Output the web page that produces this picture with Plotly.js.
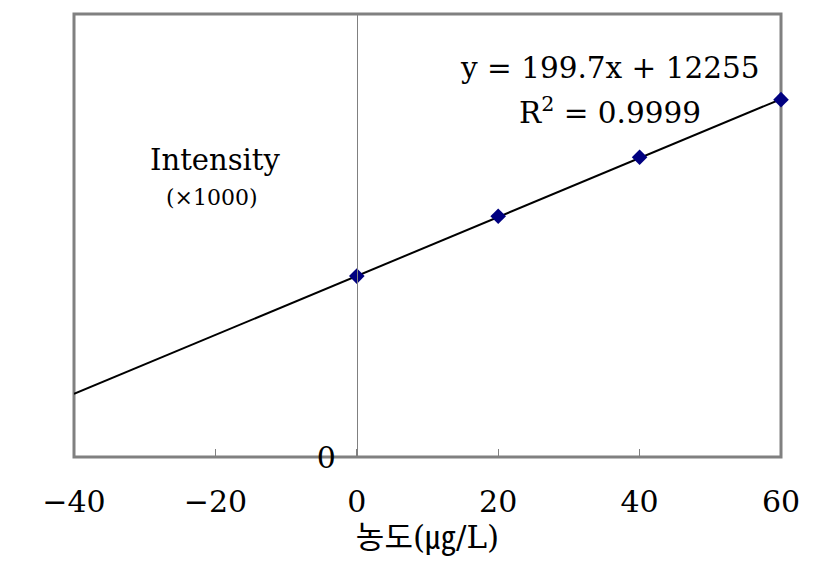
<!DOCTYPE html>
<html>
<head>
<meta charset="utf-8">
<script src="https://cdn.plot.ly/plotly-3.0.1.min.js"></script>
<style>html,body{margin:0;padding:0;background:#fff;}#chart{width:831px;height:568px;}</style>
</head>
<body>
<div id="chart"></div>
<script>
// Data
const concX = [0, 20, 40, 60];
const intensityY = [12250, 16300, 20300, 24200];
const trendX = [-40, 60];
const trendY = [4270, 24240];
const xTickVals = [-40, -20, 0, 20, 40, 60];
const xTickText = ['\u221240', '\u221220', '0', '20', '40', '60'];
const equationText = 'y\u00a0=\u00a0199.7x\u00a0+\u00a012255';
const r2Text = 'R<sup>2</sup>\u00a0=\u00a00.9999';

const serif = 'DejaVu Serif, Liberation Serif, Noto Sans CJK KR, serif';

const traces = [
  {x: trendX, y: trendY, mode: 'lines', type: 'scatter',
   line: {color: '#000000', width: 2}, hoverinfo: 'skip', showlegend: false},
  {x: concX, y: intensityY, mode: 'markers', type: 'scatter', cliponaxis: false,
   marker: {symbol: 'diamond', color: '#000080', size: 12}, showlegend: false}
];

const layout = {
  width: 831, height: 568,
  margin: {l: 74, r: 50, t: 14, b: 111},
  paper_bgcolor: '#ffffff', plot_bgcolor: '#ffffff',
  showlegend: false,
  font: {family: serif, color: '#000000'},
  xaxis: {
    range: [-40, 60], showgrid: false, zeroline: false, showline: false,
    tickvals: xTickVals, ticktext: xTickText,
    ticks: 'inside', ticklen: 8, tickcolor: '#808080', tickwidth: 1,
    ticklabelstandoff: 24,
    tickfont: {family: serif, size: 30, color: '#000000'},
    title: {text: '농도(㎍/L)', font: {family: 'DejaVu Serif, Noto Sans CJK KR, serif', size: 31, color: '#000000'}, standoff: 2}
  },
  yaxis: {
    range: [0, 30000], showgrid: false, zeroline: false,
    anchor: 'free', position: 0.4,
    showline: true, linecolor: '#808080', linewidth: 1,
    tickvals: [0], ticktext: ['0'], ticks: '',
    ticklabelstandoff: 15,
    tickfont: {family: serif, size: 30, color: '#000000'}
  },
  shapes: [
    {type: 'rect', xref: 'paper', yref: 'paper', x0: 0, x1: 1, y0: 0, y1: 1,
     line: {color: '#808080', width: 3}, fillcolor: 'rgba(0,0,0,0)', layer: 'below'}
  ],
  annotations: [
    {x: 35.8, y: 26340, xref: 'x', yref: 'y', text: equationText, showarrow: false,
     font: {family: serif, size: 29.5, color: '#000000'}},
    {x: 35.8, y: 23450, xref: 'x', yref: 'y', text: r2Text, showarrow: false,
     font: {family: serif, size: 29.5, color: '#000000'}},
    {x: -20.1, y: 20100, xref: 'x', yref: 'y', text: 'Intensity', showarrow: false,
     font: {family: serif, size: 29, color: '#000000'}},
    {x: -20.5, y: 17550, xref: 'x', yref: 'y', text: '(\u00d71000)', showarrow: false,
     font: {family: serif, size: 22, color: '#000000'}}
  ]
};

Plotly.newPlot('chart', traces, layout, {displayModeBar: false, staticPlot: true});
</script>
</body>
</html>
